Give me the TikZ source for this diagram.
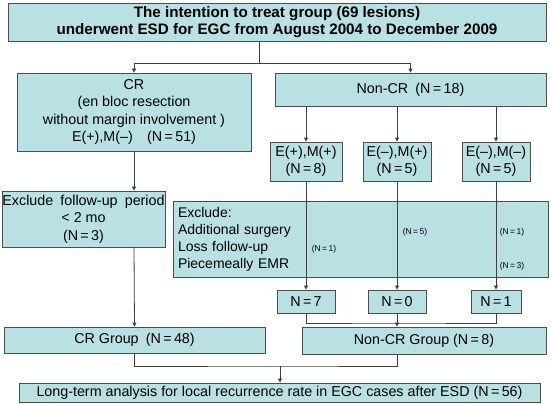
\documentclass[tikz,border=0pt]{standalone}
\usepackage{fontspec}
\setmainfont{Liberation Sans}
\usepackage{xcolor}
\usepackage{tikz}
\usetikzlibrary{arrows.meta}
\definecolor{boxfill}{HTML}{B9E0E3}
\definecolor{boxline}{HTML}{4D4D4D}
\definecolor{wire}{HTML}{3F3F3F}
\tikzset{
  panel/.style={draw=boxline, fill=boxfill, line width=0.8pt, align=center, inner sep=0pt, font=\fontsize{14.3}{17.5}\selectfont},
  headpanel/.style={panel, font=\fontsize{15.2}{16.5}\selectfont\bfseries},
  listpanel/.style={panel, align=left, inner xsep=5pt, font=\fontsize{14}{17}\selectfont},
  link/.style={draw=wire, line width=0.8pt},
  flow/.style={link, -{Triangle[length=4pt,width=4pt]}},
  tally/.style={font=\fontsize{8.5}{10}\selectfont, inner sep=0pt},
}
\newcommand{\eq}{\,=\,}

\begin{document}
\begin{tikzpicture}[x=1pt,y=-1pt]
  \useasboundingbox (0,0) rectangle (552,404);
  \node[headpanel, minimum width=538pt, minimum height=38pt] (top) at (277,22)
    {The intention to treat group (69 lesions)\\underwent ESD for EGC from August 2004 to December 2009};
  \node[panel, minimum width=234pt, minimum height=78pt] (cr) at (134,112)
    {CR\\(en bloc resection\\without margin involvement )\\E(+),M(--)\quad(N\eq51)};
  \node[panel, minimum width=271pt, minimum height=33pt] (noncr) at (410.5,89.5) {Non-CR\enspace(N\eq18)};
  \node[panel, minimum width=72pt, minimum height=39pt] (sub1) at (306,161.5) {E(+),M(+)\\(N\eq8)};
  \node[panel, minimum width=68pt, minimum height=39pt] (sub2) at (397,161.5) {E(--),M(+)\\(N\eq5)};
  \node[panel, minimum width=68pt, minimum height=39pt] (sub3) at (496,161.5) {E(--),M(--)\\(N\eq5)};
  \node[panel, minimum width=163pt, minimum height=56pt] (exclcr) at (83.5,219)
    {Exclude\enspace follow-up\enspace period\\< 2 mo\\(N\eq3)};
  \node[listpanel, text width=365pt, minimum height=76pt] (exclnon) at (360.5,239.5)
    {Exclude:\\Additional surgery\\Loss follow-up\\Piecemeally EMR};
  \node[tally] (loss1) at (324,249) {(N\eq1)};
  \node[tally] (add5) at (415,232) {(N\eq5)};
  \node[tally] (add1) at (512,232) {(N\eq1)};
  \node[tally] (emr3) at (512,266) {(N\eq3)};
  \node[panel, minimum width=58pt, minimum height=23pt] (nseven) at (306,301.5) {N\eq7};
  \node[panel, minimum width=58pt, minimum height=23pt] (nzero) at (397,301.5) {N\eq0};
  \node[panel, minimum width=50pt, minimum height=23pt] (none) at (496,301.5) {N\eq1};
  \node[panel, minimum width=261pt, minimum height=26pt] (crgroup) at (134.5,340) {CR Group\enspace(N\eq48)};
  \node[panel, minimum width=244pt, minimum height=27pt] (noncrgroup) at (424,340.5) {Non-CR Group (N\eq8)};
  \node[panel, minimum width=521pt, minimum height=19pt] (longterm) at (279.5,392.5)
    {Long-term analysis for local recurrence rate in EGC cases after ESD (N\eq56)};

  \coordinate (split) at (259,63);
  \coordinate (join) at (397,323);
  \coordinate (merge) at (280,366);

  \draw[link] (split |- top.south) -- (split);
  \draw[flow] (split) -| (cr.north);
  \draw[flow] (split) -| (noncr.north);
  \foreach \s/\n in {sub1/nseven, sub2/nzero, sub3/none} {
    \draw[flow] (\s.north |- noncr.south) -- (\s.north);
    \draw[flow] (\s.south) -- (\n.north);
  }
  \draw[flow] (cr.south) -- (cr.south |- exclcr.north);
  \draw[flow] (cr.south |- exclcr.south) -- (crgroup.north);
  \draw[link] (nseven.south) |- (join) -| (none.south);
  \draw[flow] (nzero.south) -- (nzero.south |- noncrgroup.north);
  \draw[link] (crgroup.south) |- (merge) -| (nzero.south |- noncrgroup.south);
  \draw[flow] (merge) -- (merge |- longterm.north);
\end{tikzpicture}
\end{document}
